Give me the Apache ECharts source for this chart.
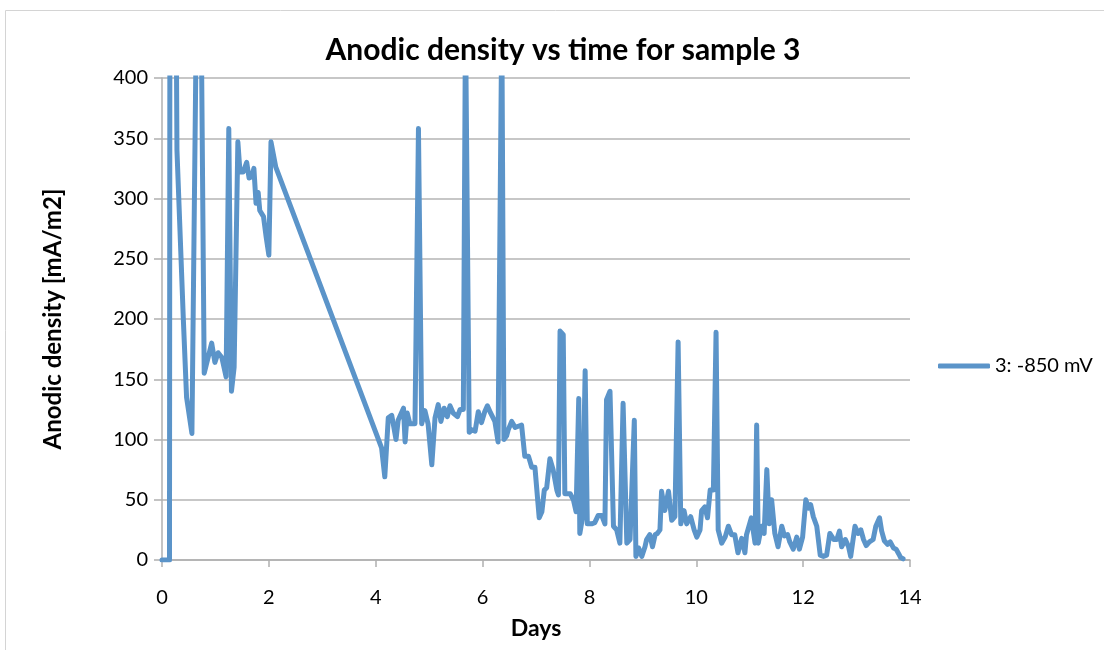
<!DOCTYPE html>
<html>
<head>
<meta charset="utf-8">
<script src="https://cdn.jsdelivr.net/npm/echarts@6/dist/echarts.min.js"></script>
<style>
html,body{margin:0;padding:0;background:#fff;}
#chart{width:1104px;height:650px;}
</style>
</head>
<body>
<div id="chart"></div>
<script>
const titleText = 'Anodic density vs time for sample 3';
const seriesName = '3: -850 mV';
const xAxisName = 'Days';
const yAxisName = 'Anodic density [mA/m2]';

const days = [
  0, 0.14, 0.15, 0.26, 0.28, 0.40, 0.46, 0.56, 0.65, 0.73, 0.79, 0.93, 0.99, 1.05, 1.12, 1.20,
  1.25, 1.30, 1.35, 1.42, 1.46, 1.52, 1.585, 1.63, 1.68, 1.72, 1.76, 1.80, 1.83, 1.90, 1.95,
  2.00, 2.04, 2.13, 4.11, 4.17, 4.235, 4.30, 4.38, 4.42, 4.52, 4.55, 4.59, 4.64, 4.735, 4.80,
  4.86, 4.92, 4.98, 5.05, 5.11, 5.17, 5.22, 5.28, 5.34, 5.39, 5.45, 5.53, 5.58, 5.64, 5.68,
  5.75, 5.80, 5.86, 5.92, 5.98, 6.04, 6.09, 6.15, 6.23, 6.29, 6.36, 6.40, 6.45, 6.48, 6.545,
  6.61, 6.67, 6.73, 6.79, 6.86, 6.92, 6.98, 7.06, 7.11, 7.155, 7.20, 7.26, 7.32, 7.39, 7.42,
  7.45, 7.51, 7.54, 7.64, 7.70, 7.75, 7.80, 7.82, 7.87, 7.92, 7.96, 8.04, 8.10, 8.165, 8.23,
  8.29, 8.32, 8.385, 8.45, 8.51, 8.57, 8.63, 8.70, 8.76, 8.84, 8.87, 8.92, 8.98, 9.04, 9.07,
  9.13, 9.18, 9.23, 9.27, 9.32, 9.35, 9.41, 9.48, 9.54, 9.60, 9.66, 9.71, 9.77, 9.82, 9.895,
  9.96, 10.01, 10.07, 10.10, 10.16, 10.21, 10.26, 10.32, 10.37, 10.41, 10.475, 10.54, 10.60,
  10.66, 10.72, 10.78, 10.85, 10.91, 10.94, 11.03, 11.10, 11.13, 11.16, 11.22, 11.27, 11.32,
  11.365, 11.41, 11.47, 11.53, 11.60, 11.65, 11.71, 11.75, 11.815, 11.88, 11.93, 11.99, 12.05,
  12.10, 12.14, 12.19, 12.255, 12.32, 12.38, 12.44, 12.50, 12.575, 12.63, 12.68, 12.72, 12.79,
  12.85, 12.89, 12.92, 12.97, 13.03, 13.08, 13.13, 13.18, 13.24, 13.31, 13.36, 13.43, 13.47,
  13.52, 13.58, 13.63, 13.69, 13.74, 13.79, 13.825, 13.87
];
const density = [
  0, 0, 600, 500, 340, 199, 135, 105, 480, 470, 155, 180, 164, 172, 168, 152,
  358, 140, 160, 347, 322, 322, 330, 317, 318, 325, 296, 305, 290, 285, 268,
  253, 347, 326, 93, 69, 118, 120, 100, 116, 126, 98, 122, 113, 113, 358,
  113, 124, 113, 79, 118, 129, 115, 126, 119, 128, 122, 119, 125, 125, 450,
  106, 108, 107, 123, 114, 123, 128, 122, 115, 98, 450, 100, 103, 108, 115,
  110, 111, 112, 86, 86, 77, 77, 35, 40, 58, 60, 84, 75, 58, 54,
  190, 187, 55, 55, 50, 40, 134, 22, 35, 157, 30, 30, 31, 37, 37,
  30, 133, 140, 28, 25, 14, 130, 14, 17, 116, 3, 10, 3, 11, 17,
  21, 11, 21, 22, 25, 57, 41, 57, 33, 36, 181, 30, 41, 30, 36,
  25, 19, 25, 41, 44, 35, 58, 58, 189, 25, 14, 19, 28,
  21, 21, 6, 18, 6, 21, 35, 14, 112, 14, 28, 22, 75,
  30, 50, 22, 11, 28, 20, 21, 15, 9, 19, 9, 19, 50,
  43, 46, 36, 28, 4, 3, 4, 22, 17, 17, 24, 11, 17,
  11, 3, 3, 28, 22, 25, 17, 12, 15, 17, 28, 35, 24,
  16, 13, 15, 10, 9, 5, 2, 1
];

const font = 'Lato, "Open Sans", sans-serif';
const lineColor = '#5b94c9';

const chart = echarts.init(document.getElementById('chart'), null, {renderer: 'canvas'});
chart.setOption({
  animation: false,
  backgroundColor: '#ffffff',
  textStyle: {fontFamily: font},
  graphic: [{
    type: 'rect',
    shape: {x: 5.5, y: 10.5, width: 1200, height: 800},
    style: {fill: 'none', stroke: '#d4d4d4', lineWidth: 1},
    silent: true, z: -10
  }],
  title: {
    text: titleText,
    left: 558, top: 30, textAlign: 'center',
    textStyle: {fontFamily: font, fontSize: 30, fontWeight: 'bold', color: '#000'}
  },
  legend: {
    left: 938, top: 356, width: 166, padding: 0,
    itemWidth: 52, itemHeight: 5, icon: 'roundRect', itemGap: 10,
    textStyle: {fontFamily: font, fontSize: 20, color: '#000', width: 110, overflow: 'none'},
    data: [{name: seriesName, icon: 'roundRect'}]
  },
  grid: {left: 162, right: 194, top: 78, bottom: 90, containLabel: false},
  xAxis: {
    type: 'value', min: 0, max: 14, interval: 2,
    name: xAxisName, nameLocation: 'middle', nameGap: 57,
    nameTextStyle: {fontFamily: font, fontSize: 23, fontWeight: 'bold', color: '#000'},
    axisLine: {show: true, lineStyle: {color: '#b0b0b0', width: 1.5}},
    axisTick: {show: true, inside: false, length: 7, lineStyle: {color: '#b0b0b0', width: 1.5}},
    axisLabel: {margin: 28, fontFamily: font, fontSize: 20, color: '#000'},
    splitLine: {show: false}
  },
  yAxis: {
    type: 'value', min: 0, max: 400, interval: 50,
    name: yAxisName, nameLocation: 'middle', nameGap: 97, nameRotate: 90,
    nameTextStyle: {fontFamily: font, fontSize: 24, fontWeight: 'bold', color: '#000'},
    axisLine: {show: true, lineStyle: {color: '#b0b0b0', width: 1.5}},
    axisTick: {show: true, inside: false, length: 8, lineStyle: {color: '#b0b0b0', width: 1.5}},
    axisLabel: {margin: 14, fontFamily: font, fontSize: 20, color: '#000'},
    splitLine: {show: true, lineStyle: {color: '#b5b5b5', width: 1.5}}
  },
  series: [{
    name: seriesName,
    type: 'line',
    data: days.map((d, i) => [d, density[i]]),
    showSymbol: false,
    symbol: 'none',
    clip: true,
    lineStyle: {color: lineColor, width: 5, join: 'round', cap: 'round'},
    itemStyle: {color: lineColor}
  }]
});
</script>
</body>
</html>
